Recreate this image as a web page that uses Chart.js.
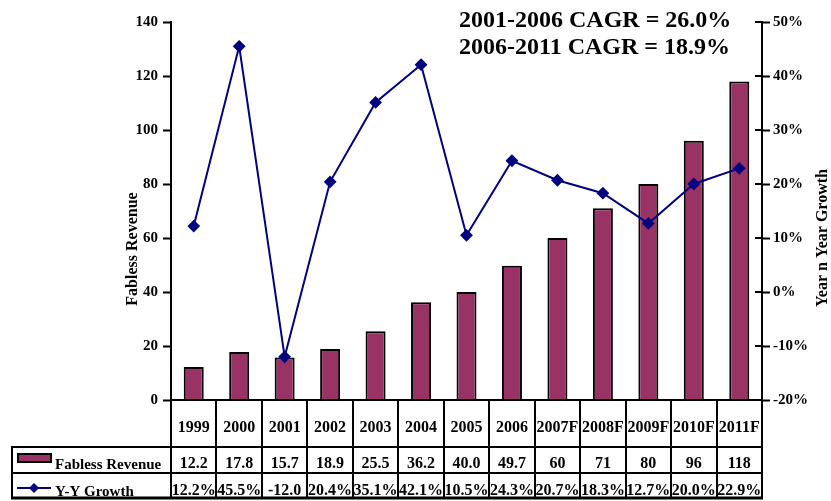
<!DOCTYPE html>
<html>
<head>
<meta charset="utf-8">
<script src="https://cdn.jsdelivr.net/npm/chart.js@4/dist/chart.umd.min.js"></script>
<style>
  html, body { margin: 0; padding: 0; background: #fff; }
  #wrap { width: 831px; height: 501px; position: relative; }
</style>
</head>
<body>
<div id="wrap"><canvas id="c" width="831" height="501"></canvas></div>
<script>
// Fabless revenue ($B) with year-over-year growth, 1999-2011F
const categories = ['1999','2000','2001','2002','2003','2004','2005','2006','2007F','2008F','2009F','2010F','2011F'];
const revenue = [12.2, 17.8, 15.7, 18.9, 25.5, 36.2, 40.0, 49.7, 60, 71, 80, 96, 118];
const growth = [12.2, 45.5, -12.0, 20.4, 35.1, 42.1, 10.5, 24.3, 20.7, 18.3, 12.7, 20.0, 22.9];
const revenueTicks = [0, 20, 40, 60, 80, 100, 120, 140];
const growthTicks = [-20, -10, 0, 10, 20, 30, 40, 50];
const cagrLines = ['2001-2006 CAGR = 26.0%', '2006-2011 CAGR = 18.9%'];
const seriesNames = ['Fabless Revenue', 'Y-Y Growth'];
const axisTitles = ['Fabless Revenue', 'Year n Year Growth'];

const SERIF = "'Liberation Serif', 'Times New Roman', serif";
const BAR_COLOR = '#993366';
const LINE_COLOR = '#000080';

const revenueLabel = (v, i) => categories[i].endsWith('F') ? String(v) : v.toFixed(1);
const growthLabel = v => v.toFixed(1) + '%';

function diamond(ctx, x, y, r) {
  ctx.beginPath();
  ctx.moveTo(x, y - r); ctx.lineTo(x + r, y); ctx.lineTo(x, y + r); ctx.lineTo(x - r, y);
  ctx.closePath(); ctx.fill();
}

const tablePlugin = {
  id: 'dataTable',
  afterDraw(chart) {
    const ctx = chart.ctx;
    const area = chart.chartArea;
    const x = chart.scales.x;
    const n = categories.length;
    const w = (area.right - area.left) / n;
    const rowTop = area.bottom + 47, rowMid = area.bottom + 73, rowBot = area.bottom + 98;
    const tableLeft = 12;

    ctx.save();
    ctx.strokeStyle = '#000';
    ctx.lineWidth = 2;

    // x axis line
    ctx.beginPath(); ctx.moveTo(area.left, area.bottom); ctx.lineTo(area.right, area.bottom); ctx.stroke();

    // inner half of the right-axis tick marks
    const y1 = chart.scales.y1;
    growthTicks.forEach(t => {
      const py = y1.getPixelForValue(t);
      ctx.beginPath(); ctx.moveTo(area.right - 7, py); ctx.lineTo(area.right, py); ctx.stroke();
    });

    // column separators
    for (let i = 0; i <= n; i++) {
      const bx = Math.round(x.getPixelForValue(0) - w / 2 + i * w);
      ctx.beginPath(); ctx.moveTo(bx, area.bottom); ctx.lineTo(bx, rowBot); ctx.stroke();
    }
    // rows
    [rowTop, rowMid].forEach(ry => {
      ctx.beginPath(); ctx.moveTo(tableLeft, ry); ctx.lineTo(area.right, ry); ctx.stroke();
    });
    ctx.lineWidth = 3;
    ctx.beginPath(); ctx.moveTo(tableLeft - 1, rowBot); ctx.lineTo(area.right + 1, rowBot); ctx.stroke();
    ctx.lineWidth = 2;
    ctx.beginPath(); ctx.moveTo(tableLeft, rowTop - 1); ctx.lineTo(tableLeft, rowBot); ctx.stroke();

    // cell texts
    ctx.fillStyle = '#000';
    ctx.font = 'bold 16px ' + SERIF;
    ctx.textAlign = 'center';
    ctx.textBaseline = 'alphabetic';
    categories.forEach((c, i) => {
      const cx = x.getPixelForValue(i);
      ctx.fillText(c, cx, area.bottom + 32);
      ctx.fillText(revenueLabel(revenue[i], i), cx, area.bottom + 68);
      let g = growthLabel(growth[i]);
      if (ctx.measureText(g).width > w) g = g.replace('%', '');
      ctx.fillText(g, cx, area.bottom + 95);
    });

    // legend keys
    ctx.fillStyle = BAR_COLOR;
    ctx.fillRect(18, rowTop + 7, 33, 8);
    ctx.strokeRect(18, rowTop + 7, 33, 8);
    ctx.strokeStyle = LINE_COLOR;
    ctx.beginPath(); ctx.moveTo(17, rowMid + 15); ctx.lineTo(51, rowMid + 15); ctx.stroke();
    ctx.fillStyle = LINE_COLOR;
    diamond(ctx, 34, rowMid + 15, 5);
    ctx.fillStyle = '#000';
    ctx.font = 'bold 15px ' + SERIF;
    ctx.textAlign = 'left';
    ctx.fillText(seriesNames[0], 55, rowTop + 22);
    ctx.fillText(seriesNames[1], 55, rowMid + 23);

    // axis titles
    ctx.font = 'bold 16px ' + SERIF;
    ctx.textAlign = 'center';
    ctx.save();
    ctx.translate(137, 249); ctx.rotate(-Math.PI / 2);
    ctx.fillText(axisTitles[0], 0, 0);
    ctx.restore();
    ctx.save();
    ctx.translate(827, 238); ctx.rotate(-Math.PI / 2);
    ctx.fillText(axisTitles[1], 0, 0);
    ctx.restore();

    // CAGR annotations
    ctx.font = 'bold 24px ' + SERIF;
    ctx.textAlign = 'left';
    ctx.fillText(cagrLines[0], 459, 27);
    ctx.fillText(cagrLines[1], 459, 54);
    ctx.restore();
  }
};

new Chart(document.getElementById('c'), {
  data: {
    labels: categories,
    datasets: [
      {
        type: 'line',
        label: seriesNames[1],
        data: growth,
        yAxisID: 'y1',
        borderColor: LINE_COLOR,
        backgroundColor: LINE_COLOR,
        borderWidth: 2,
        pointStyle: 'rectRot',
        pointRadius: 5,
        pointHoverRadius: 5,
        tension: 0,
        order: 0
      },
      {
        type: 'bar',
        label: seriesNames[0],
        data: revenue,
        yAxisID: 'y',
        backgroundColor: BAR_COLOR,
        borderColor: '#000',
        borderWidth: 2,
        categoryPercentage: 1,
        barPercentage: 0.44,
        order: 1
      }
    ]
  },
  options: {
    responsive: false,
    animation: false,
    events: [],
    layout: { padding: { left: 0, right: 0, top: 22, bottom: 101 } },
    plugins: { legend: { display: false }, tooltip: { enabled: false } },
    scales: {
      x: { display: false, offset: true },
      y: {
        position: 'left',
        min: 0, max: 140,
        afterFit(s) { s.width = 171; },
        afterBuildTicks(s) { s.ticks = revenueTicks.map(v => ({ value: v })); },
        ticks: { color: '#000', padding: 5, font: { family: SERIF, size: 15, weight: 'bold' } },
        grid: { drawOnChartArea: false, drawTicks: true, tickLength: 8, tickColor: '#000', tickWidth: 2 },
        border: { display: true, color: '#000', width: 2 }
      },
      y1: {
        position: 'right',
        min: -20, max: 50,
        afterFit(s) { s.width = 69; },
        afterBuildTicks(s) { s.ticks = growthTicks.map(v => ({ value: v })); },
        ticks: { color: '#000', padding: 3, font: { family: SERIF, size: 15, weight: 'bold' }, callback: v => v + '%' },
        grid: { drawOnChartArea: false, drawTicks: true, tickLength: 8, tickColor: '#000', tickWidth: 2 },
        border: { display: true, color: '#000', width: 2 }
      }
    }
  },
  plugins: [tablePlugin]
});
</script>
</body>
</html>
